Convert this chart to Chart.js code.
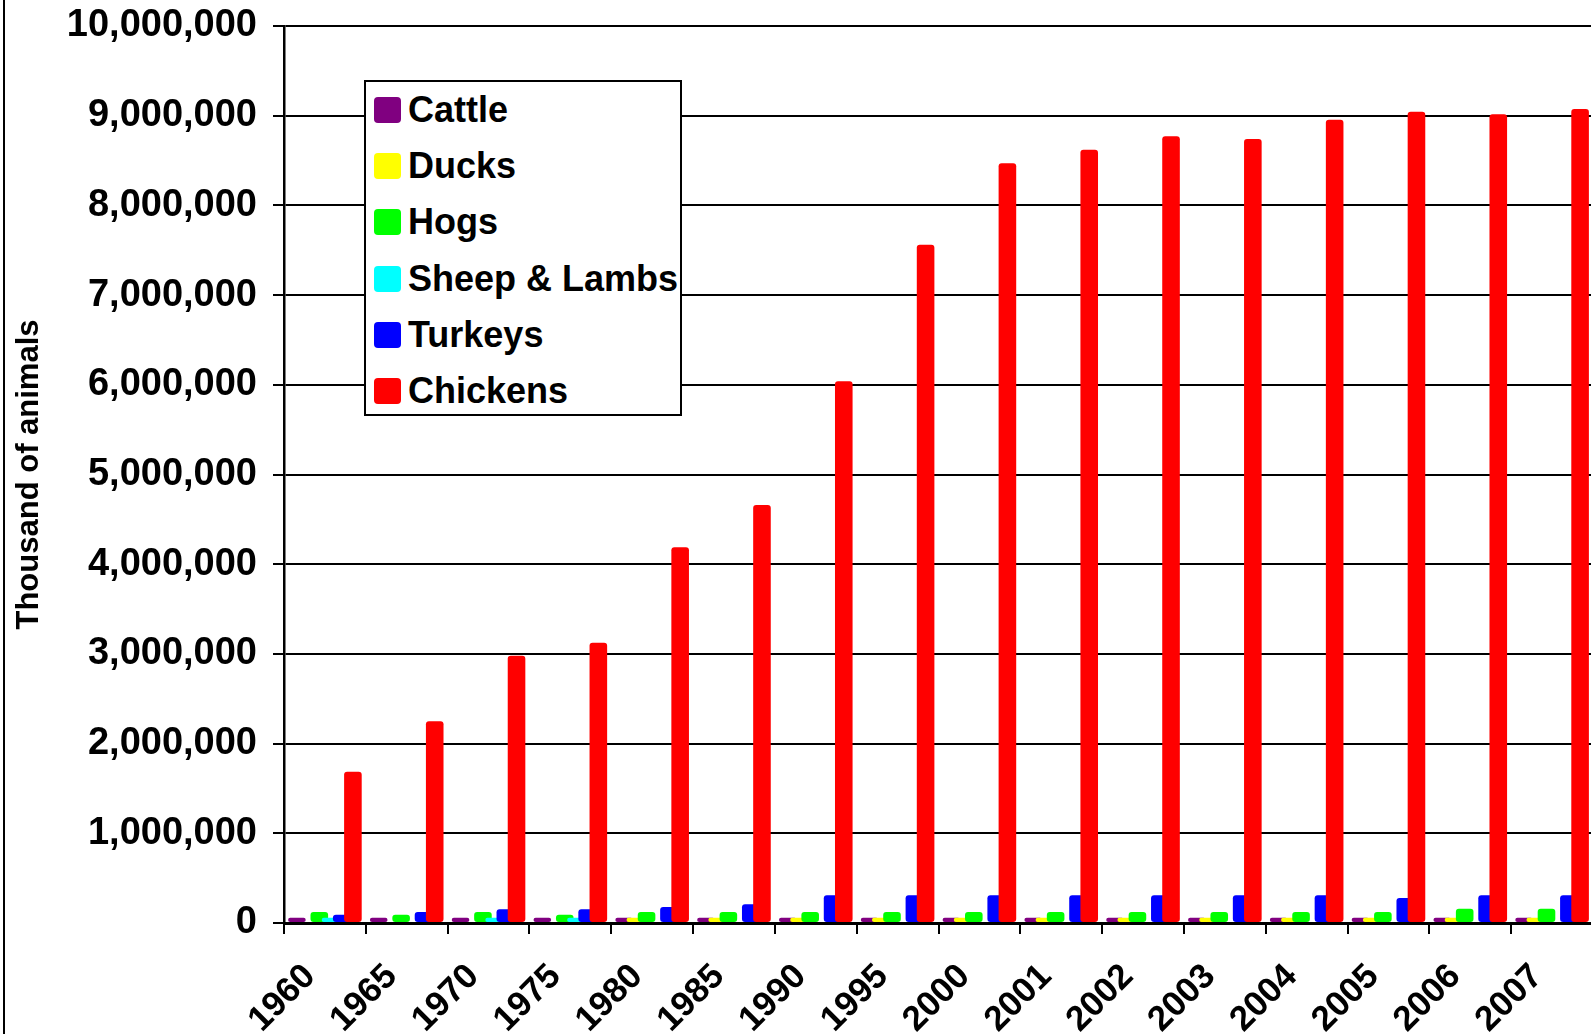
<!DOCTYPE html>
<html>
<head>
<meta charset="utf-8">
<script src="https://cdn.jsdelivr.net/npm/chart.js@4.4.1/dist/chart.umd.min.js"></script>
<style>
  html, body { margin: 0; padding: 0; background: #fff; overflow: hidden; }
  #wrap { position: relative; width: 1600px; height: 1034px; }
  #frame { position: absolute; left: 3px; top: 0; width: 2px; height: 1034px; background: #000; }
  #legend { position: absolute; left: 364px; top: 80px; width: 314px; height: 332px;
            border: 2px solid #000; background: #fff;
            font: bold 36px "Liberation Sans", Arial, sans-serif; color: #000; }
  .item { position: absolute; left: 8px; height: 40px; display: flex; align-items: center; white-space: nowrap; }
  .sw { width: 27px; height: 26px; border-radius: 4px; margin-right: 7px; }
</style>
</head>
<body>
<div id="wrap">
  <canvas id="myChart" width="1600" height="1034"></canvas>
  <div id="frame"></div>
  <div id="legend"></div>
</div>
<script>
// thousand of animals
var years = ['1960', '1965', '1970', '1975', '1980', '1985', '1990', '1995',
             '2000', '2001', '2002', '2003', '2004', '2005', '2006', '2007'];
var cattle   = [58000, 58000, 58000, 58000, 58000, 58000, 58000, 58000,
                58000, 58000, 58000, 58000, 58000, 58000, 58000, 58000];
var ducks    = [null, null, null, null, 58000, 58000, 58000, 58000,
                58000, 58000, 58000, 58000, 58000, 58000, 58000, 58000];
var hogs     = [123000, 93000, 123000, 93000, 123000, 123000, 123000, 123000,
                123000, 123000, 123000, 123000, 123000, 123000, 160000, 160000];
var sheep    = [58000, 8000, 58000, 58000, 6000, 5000, 4000, 4000,
                3000, 3000, 3000, 3000, 3000, 3000, 3000, 3000];
var turkeys  = [93000, 123000, 152000, 152000, 178000, 208000, 308000, 308000,
                308000, 308000, 308000, 308000, 308000, 280000, 308000, 308000];
var chickens = [1686000, 2250000, 2980000, 3125000, 4190000, 4660000, 6040000, 7560000,
                8470000, 8620000, 8770000, 8740000, 8955000, 9045000, 9015000, 9076000];

var seriesNames  = ['Cattle', 'Ducks', 'Hogs', 'Sheep & Lambs', 'Turkeys', 'Chickens'];
var seriesColors = ['#800080', '#FFFF00', '#00FF00', '#00FFFF', '#0000FF', '#FF0000'];
var seriesData   = [cattle, ducks, hogs, sheep, turkeys, chickens];

var FONT = '"Liberation Sans", Arial, sans-serif';

// legend box, built from the series lists
var legend = document.getElementById('legend');
seriesNames.forEach(function(name, i) {
    var item = document.createElement('div');
    item.className = 'item';
    item.style.top = (28 + i * 56.2 - 20) + 'px';
    var sw = document.createElement('span');
    sw.className = 'sw';
    sw.style.background = seriesColors[i];
    var txt = document.createElement('span');
    txt.textContent = name;
    item.appendChild(sw);
    item.appendChild(txt);
    legend.appendChild(item);
});

// Excel draws later series on top, Chart.js does the opposite
var drawInIndexOrder = {
    id: 'drawInIndexOrder',
    beforeDatasetsDraw: function(chart) {
        chart.getSortedVisibleDatasetMetas().forEach(function(meta) {
            chart._drawDataset(meta);
        });
        return false;
    }
};

var ctx = document.getElementById('myChart').getContext('2d');
var chart = new Chart(ctx, {
    type: 'bar',
    data: {
        labels: years,
        datasets: seriesNames.map(function(name, i) {
            return {
                label: name,
                data: seriesData[i],
                backgroundColor: seriesColors[i],
                borderWidth: 0,
                borderRadius: 3,
                borderSkipped: false,
                categoryPercentage: 0.8214,
                barPercentage: 1.571
            };
        })
    },
    plugins: [drawInIndexOrder],
    options: {
        responsive: false,
        animation: false,
        devicePixelRatio: 1,
        layout: { padding: { left: 0, right: 7, top: 26, bottom: 0 } },
        plugins: {
            legend: { display: false },
            tooltip: { enabled: false }
        },
        scales: {
            x: {
                grid: { offset: true, drawOnChartArea: false, drawTicks: true, tickLength: 11, color: '#000', lineWidth: 2 },
                border: { display: true, color: '#000', width: 3, z: 1 },
                ticks: {
                    color: '#000',
                    font: { family: FONT, size: 35, weight: 'bold' },
                    minRotation: 45,
                    maxRotation: 45,
                    autoSkip: false,
                    padding: 22,
                    labelOffset: -15
                },
                afterFit: function(scale) {
                    scale.height = 111;
                    scale.paddingLeft = 0;
                    scale.paddingRight = 0;
                }
            },
            y: {
                min: 0,
                max: 10000000,
                ticks: {
                    stepSize: 1000000,
                    color: '#000',
                    font: { family: FONT, size: 38, weight: 'bold' },
                    padding: 16,
                    callback: function(v) { return v.toLocaleString('en-US'); }
                },
                grid: { color: '#000', lineWidth: 2, tickLength: 11 },
                border: { display: true, color: '#000', width: 2.5 },
                title: {
                    display: true,
                    text: 'Thousand of animals',
                    color: '#000',
                    font: { family: FONT, size: 31, weight: 'bold', lineHeight: 1 },
                    padding: { top: 14, bottom: 0 }
                },
                afterFit: function(scale) {
                    scale.width = 284;
                    scale.paddingTop = 0;
                    scale.paddingBottom = 0;
                }
            }
        }
    }
});
</script>
</body>
</html>
